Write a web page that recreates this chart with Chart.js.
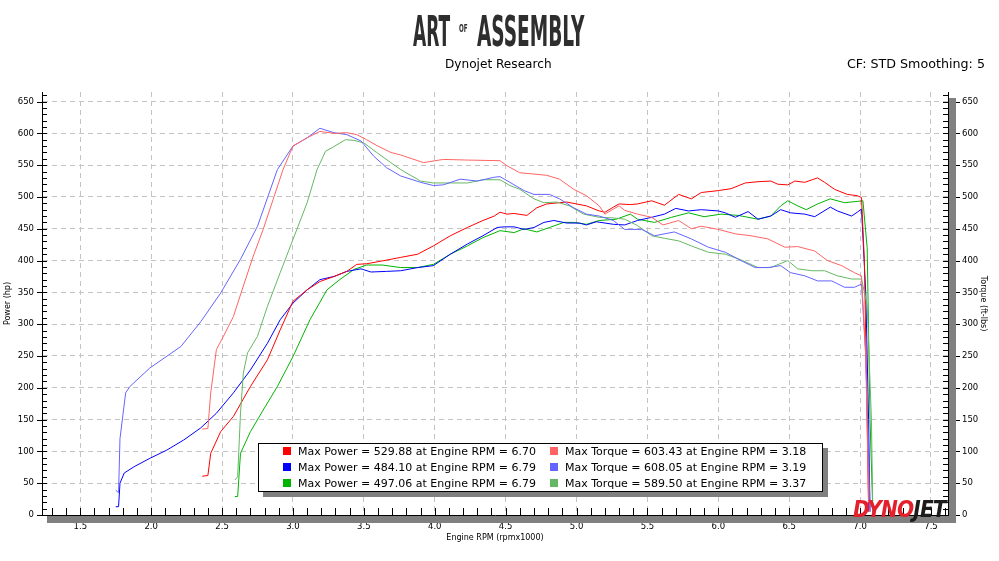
<!DOCTYPE html>
<html>
<head>
<meta charset="utf-8">
<script src="https://cdn.jsdelivr.net/npm/chart.js@4.4.1/dist/chart.umd.min.js"></script>
<style>
    body { margin: 0; background: #fff; }
    #wrap { position: relative; width: 999px; height: 561px; overflow: hidden; font-family: "DejaVu Sans", sans-serif; }
    #grafico { position: absolute; left: 0; top: 0; }
    .txt { position: absolute; white-space: nowrap; color: #000; transform-origin: 0 0; }
    .logo { font-family: "DejaVu Sans Condensed", "Liberation Sans Narrow", "DejaVu Sans", sans-serif; font-weight: bold; color: #2e2e2e; }
    #legenda { position: absolute; left: 258px; top: 443px; width: 563px; height: 47px; border: 1px solid #000; background: #fff; box-shadow: 5px 5px 0 #808080; }
    .quad { position: absolute; width: 8px; height: 8px; }
</style>
</head>
<body>
<div id="wrap">
    <canvas id="grafico" width="999" height="561"></canvas>
    <div class="txt logo" data-w="37" style="left:413px; top:9.9px; font-size:43.5px; line-height:43.5px;">ART</div>
    <div class="txt logo" data-w="8.5" style="left:459px; top:22.7px; font-size:11px; line-height:11px;">OF</div>
    <div class="txt logo" data-w="107.5" style="left:476.5px; top:9.9px; font-size:43.5px; line-height:43.5px;">ASSEMBLY</div>
    <div class="txt" data-w="107" style="left:445px; top:57.6px; font-size:12px; line-height:12px;">Dynojet Research</div>
    <div class="txt" data-w="138" style="left:847px; top:58px; font-size:12.5px; line-height:12.5px;">CF: STD Smoothing: 5</div>
    <div id="legenda"></div>
    <div class="txt" data-w="93" style="left:853px; top:497.5px; font-size:23px; line-height:23px; font-weight:bold; font-style:italic; letter-spacing:-1px;"><span style="color:#e3202b">DYNO</span><span style="color:#1c1c1c">JET</span></div>
</div>
<script>
// run 1 (red)
const redPowerRpm = [2.36, 2.40, 2.42, 2.49, 2.58, 2.70, 2.82, 2.91, 3.00, 3.10, 3.19, 3.29, 3.38, 3.45, 3.52, 3.62, 3.76, 3.88, 3.99, 4.11, 4.23, 4.34, 4.42, 4.46, 4.51, 4.56, 4.65, 4.72, 4.79, 4.88, 4.93, 5.00, 5.07, 5.16, 5.20, 5.26, 5.30, 5.38, 5.43, 5.53, 5.62, 5.72, 5.81, 5.88, 6.00, 6.09, 6.19, 6.28, 6.37, 6.42, 6.49, 6.54, 6.61, 6.70, 6.75, 6.82, 6.91, 6.98, 7.01, 7.03, 7.05, 7.06];
const redPower = [61, 62, 97, 131, 155, 202, 244, 291, 336, 354, 367, 375, 383, 394, 395, 399, 405, 410, 423, 439, 452, 463, 470, 476, 473, 474, 471, 483, 489, 491, 492, 489, 486, 478, 476, 484, 489, 488, 489, 494, 487, 504, 497, 507, 510, 513, 522, 524, 525, 520, 519, 525, 523, 530, 523, 512, 504, 502, 499, 400, 150, 5];
const redTorqueRpm = [2.36, 2.40, 2.42, 2.46, 2.51, 2.58, 2.65, 2.72, 2.79, 2.86, 2.93, 3.00, 3.10, 3.19, 3.29, 3.38, 3.45, 3.52, 3.59, 3.69, 3.76, 3.92, 4.06, 4.23, 4.46, 4.51, 4.60, 4.70, 4.79, 4.88, 4.98, 5.07, 5.16, 5.20, 5.26, 5.30, 5.34, 5.43, 5.53, 5.61, 5.72, 5.81, 5.88, 6.00, 6.12, 6.23, 6.35, 6.47, 6.56, 6.68, 6.77, 6.87, 6.96, 7.01, 7.04, 7.06];
const redTorque = [135, 136, 192, 260, 281, 312, 360, 407, 449, 496, 543, 580, 593, 603, 600, 601, 598, 590, 581, 570, 566, 554, 559, 558, 557, 549, 538, 536, 534, 528, 512, 502, 486, 473, 481, 486, 479, 473, 468, 456, 463, 450, 454, 449, 442, 439, 434, 421, 422, 415, 400, 392, 381, 376, 250, 20];

// run 2 (blue)
const bluePowerRpm = [1.75, 1.77, 1.78, 1.81, 1.88, 1.99, 2.11, 2.23, 2.35, 2.46, 2.58, 2.70, 2.82, 2.91, 3.00, 3.10, 3.19, 3.29, 3.38, 3.48, 3.55, 3.66, 3.76, 3.88, 3.99, 4.11, 4.23, 4.34, 4.44, 4.49, 4.56, 4.63, 4.70, 4.77, 4.84, 4.93, 5.02, 5.07, 5.14, 5.26, 5.34, 5.43, 5.53, 5.62, 5.70, 5.79, 5.88, 6.00, 6.05, 6.12, 6.21, 6.28, 6.37, 6.44, 6.51, 6.61, 6.68, 6.79, 6.84, 6.94, 6.98, 7.01, 7.04, 7.06, 7.07];
const bluePower = [13, 13, 50, 66, 76, 89, 102, 118, 137, 160, 192, 228, 270, 307, 333, 354, 370, 375, 383, 387, 382, 383, 384, 389, 392, 410, 426, 439, 452, 453, 453, 449, 452, 460, 463, 459, 459, 456, 461, 457, 456, 463, 468, 473, 482, 478, 480, 478, 475, 468, 477, 465, 470, 480, 475, 473, 469, 484, 478, 470, 476, 481, 350, 150, 5];
const blueTorqueRpm = [1.75, 1.77, 1.78, 1.82, 1.85, 1.99, 2.21, 2.35, 2.49, 2.63, 2.75, 2.89, 3.00, 3.10, 3.19, 3.29, 3.38, 3.48, 3.57, 3.66, 3.76, 3.90, 3.99, 4.06, 4.18, 4.30, 4.42, 4.46, 4.53, 4.63, 4.70, 4.81, 4.88, 4.98, 5.07, 5.16, 5.26, 5.34, 5.46, 5.55, 5.69, 5.81, 5.93, 6.05, 6.16, 6.26, 6.35, 6.44, 6.51, 6.61, 6.70, 6.80, 6.89, 6.96, 7.01, 7.04, 7.07];
const blueTorque = [39, 35, 120, 192, 202, 231, 265, 304, 349, 402, 454, 543, 580, 593, 608, 601, 598, 588, 564, 546, 533, 523, 518, 519, 528, 525, 531, 532, 523, 510, 504, 504, 497, 483, 473, 470, 463, 449, 449, 439, 445, 434, 421, 413, 400, 389, 389, 392, 381, 376, 368, 368, 358, 358, 363, 250, 10];

// run 3 (green)
const greenPowerRpm = [2.59, 2.61, 2.63, 2.70, 2.79, 2.89, 3.00, 3.12, 3.24, 3.33, 3.43, 3.52, 3.63, 3.76, 3.88, 3.99, 4.11, 4.23, 4.34, 4.46, 4.56, 4.63, 4.72, 4.81, 4.91, 4.98, 5.07, 5.16, 5.28, 5.38, 5.43, 5.55, 5.67, 5.79, 5.90, 6.02, 6.14, 6.28, 6.37, 6.44, 6.49, 6.56, 6.62, 6.70, 6.79, 6.89, 6.98, 7.02, 7.05, 7.07, 7.09];
const greenPower = [29, 29, 97, 131, 165, 202, 249, 307, 354, 370, 386, 393, 393, 389, 389, 394, 410, 423, 436, 447, 444, 450, 445, 452, 460, 460, 457, 463, 465, 473, 465, 460, 468, 475, 469, 473, 471, 465, 470, 486, 494, 486, 480, 489, 497, 491, 493, 494, 420, 150, 5];
const greenTorqueRpm = [2.59, 2.61, 2.63, 2.65, 2.68, 2.75, 2.82, 2.91, 3.00, 3.10, 3.17, 3.23, 3.28, 3.37, 3.43, 3.50, 3.59, 3.69, 3.76, 3.90, 3.99, 4.11, 4.23, 4.34, 4.46, 4.53, 4.60, 4.70, 4.77, 4.86, 4.95, 5.05, 5.16, 5.26, 5.34, 5.43, 5.53, 5.62, 5.72, 5.81, 5.93, 6.05, 6.16, 6.28, 6.37, 6.49, 6.56, 6.66, 6.75, 6.84, 6.94, 7.01, 7.05, 7.08, 7.09];
const greenTorque = [55, 60, 160, 223, 255, 281, 328, 381, 433, 491, 543, 572, 578, 590, 589, 585, 570, 554, 543, 525, 522, 522, 522, 527, 527, 518, 512, 497, 491, 492, 486, 473, 468, 467, 465, 455, 439, 435, 431, 423, 413, 410, 401, 389, 389, 400, 387, 384, 384, 376, 371, 371, 330, 150, 5];

// legend values
const maxPower = [529.88, 484.10, 497.06];
const maxPowerRpm = [6.70, 6.79, 6.79];
const maxTorque = [603.43, 608.05, 589.50];
const maxTorqueRpm = [3.18, 3.19, 3.37];

// tick labels
const rpmTicks = [1.5, 2.0, 2.5, 3.0, 3.5, 4.0, 4.5, 5.0, 5.5, 6.0, 6.5, 7.0, 7.5];
const valueTicks = [0, 50, 100, 150, 200, 250, 300, 350, 400, 450, 500, 550, 600, 650];

const powerColors = ["#ff0000", "#0000ff", "#00b400"];
const torqueColors = ["#ff6464", "#6464ff", "#64b864"];

const toPoints = (rpm, values) => rpm.map((r, i) => ({ x: r, y: values[i] }));

const serie = (rpm, values, color, axis) => ({
    data: toPoints(rpm, values),
    borderColor: color,
    backgroundColor: color,
    borderWidth: 1,
    pointRadius: 0,
    tension: 0,
    fill: false,
    yAxisID: axis,
});

const tickFont = { family: "DejaVu Sans", size: 8.5 };
const titleFont = { family: "DejaVu Sans", size: 8 };

// minor ticks inside the plot + grey shadow of the frame
const axisDecor = {
    id: "axisDecor",
    afterDraw: (chart) => {
        const { ctx, chartArea, scales } = chart;
        const { left, right, top, bottom } = chartArea;
        ctx.save();
        ctx.fillStyle = "#808080";
        ctx.fillRect(right + 1, top + 6, 7, bottom - top + 1);
        ctx.fillRect(left + 5, bottom + 1, right - left + 3, 7);

        ctx.strokeStyle = "#000";
        ctx.lineWidth = 1;
        ctx.beginPath();
        for (let i = 13; i <= 76; i++) {
            const px = Math.round(scales.x.getPixelForValue(i / 10)) + 0.5;
            ctx.moveTo(px, bottom);
            ctx.lineTo(px, bottom - 7);
        }
        for (let i = 0; i <= 66; i++) {
            const py = Math.round(scales.yPower.getPixelForValue(i * 10)) + 0.5;
            const major = i % 5 === 0;
            ctx.moveTo(left - (major ? 5 : 0), py);
            ctx.lineTo(left + 5, py);
            ctx.moveTo(right - 5, py);
            ctx.lineTo(right, py);
            if (major) {
                ctx.moveTo(right + 8, py);
                ctx.lineTo(right + 12, py);
            }
        }
        ctx.stroke();
        ctx.restore();
    },
};

const ctx = document.getElementById("grafico").getContext("2d");

new Chart(ctx, {
    type: "line",
    data: {
        datasets: [
            serie(redTorqueRpm, redTorque, torqueColors[0], "yTorque"),
            serie(blueTorqueRpm, blueTorque, torqueColors[1], "yTorque"),
            serie(greenTorqueRpm, greenTorque, torqueColors[2], "yTorque"),
            serie(redPowerRpm, redPower, powerColors[0], "yPower"),
            serie(bluePowerRpm, bluePower, powerColors[1], "yPower"),
            serie(greenPowerRpm, greenPower, powerColors[2], "yPower"),
        ],
    },
    options: {
        responsive: false,
        animation: false,
        layout: { padding: { top: 92, left: 0, right: 0, bottom: 0 } },
        plugins: {
            legend: { display: false },
            title: { display: false },
            tooltip: { enabled: false },
        },
        scales: {
            x: {
                type: "linear",
                position: "bottom",
                min: 1.23,
                max: 7.62,
                afterBuildTicks: (scale) => {
                    scale.ticks = rpmTicks.map((v) => ({ value: v }));
                },
                afterFit: (scale) => {
                    scale.height = 46;
                },
                grid: { color: "#c4c4c4", drawTicks: false },
                border: { color: "#000", width: 1, dash: [5, 4] },
                ticks: {
                    color: "#000",
                    font: tickFont,
                    padding: 7,
                    maxRotation: 0,
                    autoSkip: false,
                    callback: (v) => Number(v).toFixed(1),
                },
                title: {
                    display: true,
                    text: "Engine RPM (rpmx1000)",
                    color: "#000",
                    font: titleFont,
                    padding: { top: 0, bottom: 18 },
                },
            },
            yPower: {
                position: "left",
                min: 0,
                max: 665,
                afterBuildTicks: (scale) => {
                    scale.ticks = valueTicks.map((v) => ({ value: v }));
                },
                afterFit: (scale) => {
                    scale.width = 42;
                },
                grid: { color: "#c4c4c4", drawTicks: false },
                border: { color: "#000", width: 1, dash: [5, 4] },
                ticks: { color: "#000", font: tickFont, padding: 8 },
                title: {
                    display: true,
                    text: "Power (hp)",
                    color: "#000",
                    font: titleFont,
                    padding: { top: 3, bottom: 0 },
                },
            },
            yTorque: {
                position: "right",
                min: 0,
                max: 665,
                afterBuildTicks: (scale) => {
                    scale.ticks = valueTicks.map((v) => ({ value: v }));
                },
                afterFit: (scale) => {
                    scale.width = 51;
                },
                grid: { drawOnChartArea: false, drawTicks: false },
                border: { color: "#000", width: 1 },
                ticks: { color: "#000", font: tickFont, padding: 14 },
                title: {
                    display: true,
                    text: "Torque (ft-lbs)",
                    color: "#000",
                    font: titleFont,
                    padding: { top: 11, bottom: 0 },
                },
            },
        },
    },
    plugins: [axisDecor],
});

// legend box (two columns: power / torque)
const legenda = document.getElementById("legenda");
maxPower.forEach((valor, i) => {
    const linhaTop = 1.5 + i * 16;
    const itens = [
        { cor: powerColors[i], texto: `Max Power = ${valor.toFixed(2)} at Engine RPM = ${maxPowerRpm[i].toFixed(2)}`, quad: 24, txt: 39 },
        { cor: torqueColors[i], texto: `Max Torque = ${maxTorque[i].toFixed(2)} at Engine RPM = ${maxTorqueRpm[i].toFixed(2)}`, quad: 291, txt: 306 },
    ];
    itens.forEach((item) => {
        const q = document.createElement("div");
        q.className = "quad";
        q.style.left = item.quad + "px";
        q.style.top = linhaTop + 1.3 + "px";
        q.style.background = item.cor;
        legenda.appendChild(q);
        const t = document.createElement("div");
        t.className = "txt";
        t.style.left = item.txt + "px";
        t.style.top = linhaTop + "px";
        t.style.fontSize = "11px";
        t.style.lineHeight = "11px";
        t.textContent = item.texto;
        legenda.appendChild(t);
    });
});

// squeeze header texts to the widths seen in the picture
document.querySelectorAll("[data-w]").forEach((el) => {
    const alvo = parseFloat(el.dataset.w);
    el.style.transform = `scaleX(${alvo / el.offsetWidth})`;
});
</script>
</body>
</html>
